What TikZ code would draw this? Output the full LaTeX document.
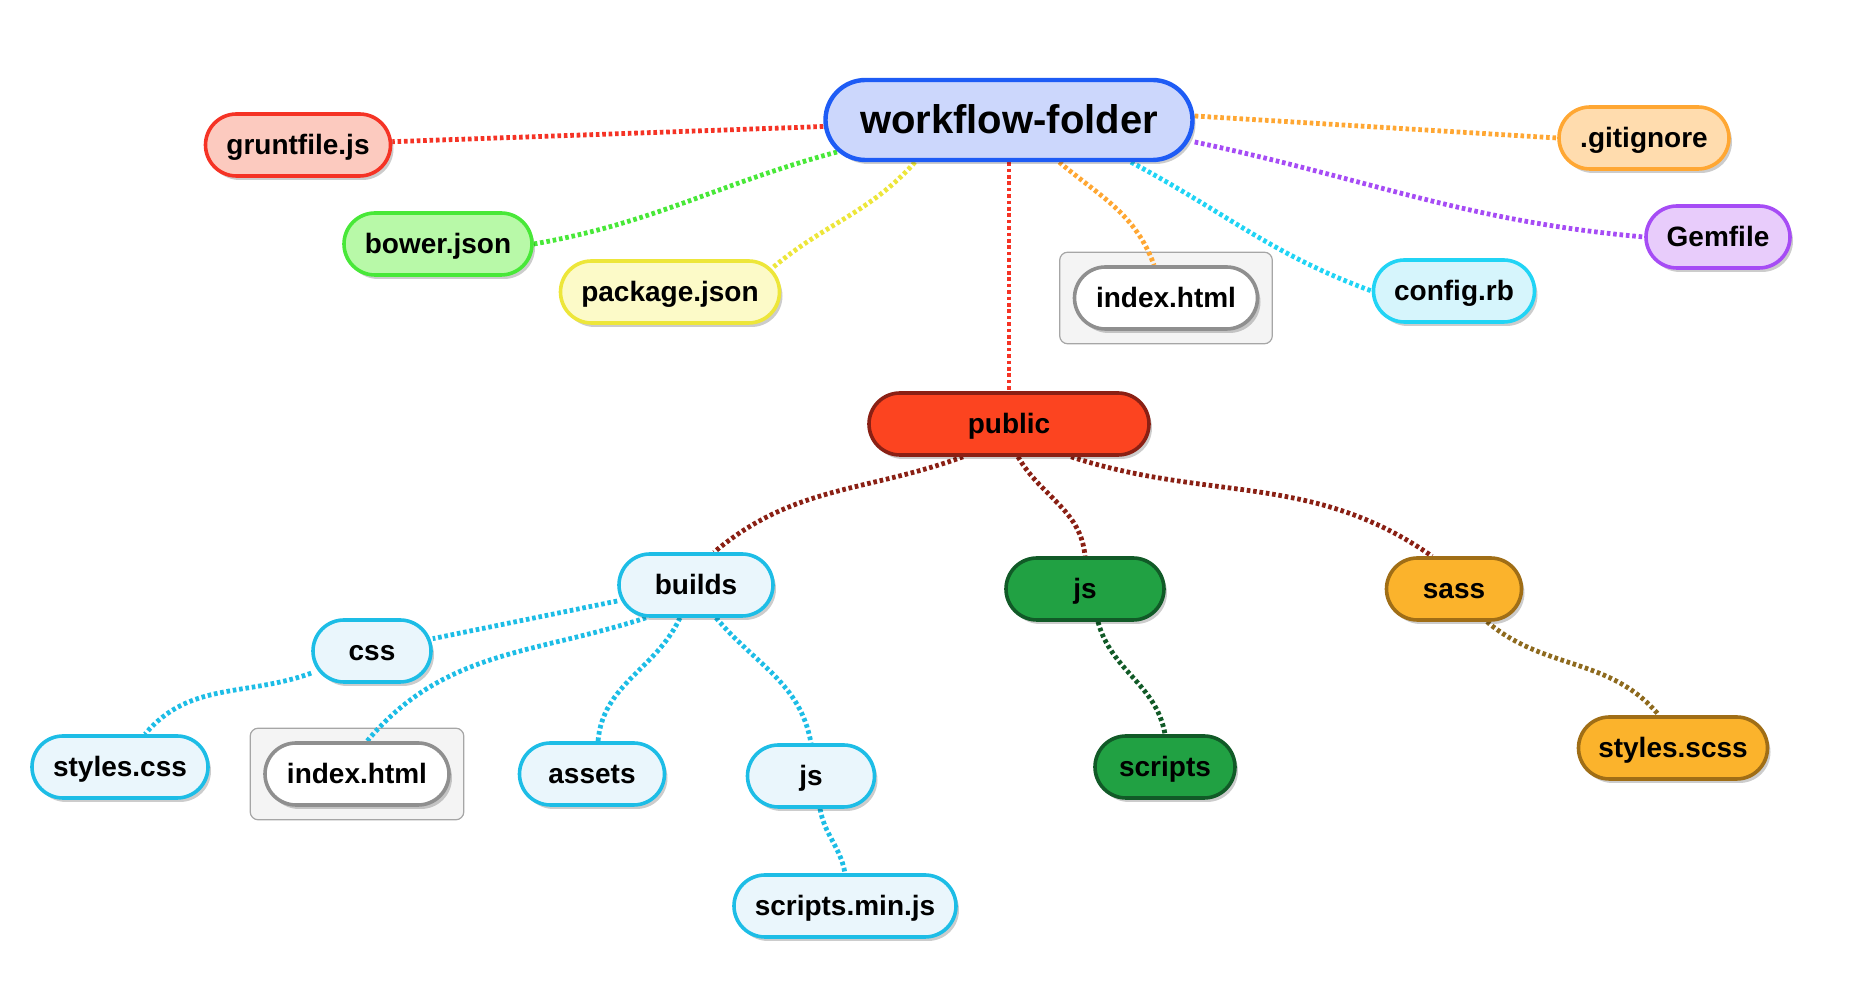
\documentclass[tikz,border=0pt]{standalone}
\usepackage{fontspec}
\setmainfont{Liberation Sans}
\usetikzlibrary{positioning, shadows, fit, backgrounds}
\definecolor{rootfill}{HTML}{CCD7FC}
\definecolor{rootline}{HTML}{1E5CF5}
\definecolor{gruntfill}{HTML}{FCCABF}
\definecolor{gruntline}{HTML}{F53325}
\definecolor{bowerfill}{HTML}{B8F9A8}
\definecolor{bowerline}{HTML}{48E838}
\definecolor{pkgfill}{HTML}{FCFAC8}
\definecolor{pkgline}{HTML}{EDE63A}
\definecolor{idxline}{HTML}{8F8F8F}
\definecolor{grpfill}{HTML}{F4F4F4}
\definecolor{grpline}{HTML}{A6A6A6}
\definecolor{configfill}{HTML}{D6F5FC}
\definecolor{configline}{HTML}{21D4F5}
\definecolor{gitfill}{HTML}{FFDCAE}
\definecolor{gitline}{HTML}{FFA733}
\definecolor{gemfill}{HTML}{E8CCFB}
\definecolor{gemline}{HTML}{A64CF5}
\definecolor{publicfill}{HTML}{FC4420}
\definecolor{publicline}{HTML}{8A2014}
\definecolor{buildfill}{HTML}{EAF6FC}
\definecolor{buildline}{HTML}{1DBDE6}
\definecolor{jsfill}{HTML}{21A143}
\definecolor{jsline}{HTML}{115A27}
\definecolor{sassfill}{HTML}{FBB32C}
\definecolor{sassline}{HTML}{A06E16}
\definecolor{sasslink}{HTML}{8E6A1E}
\tikzset{
    file/.style={rectangle, rounded corners=15.5pt, minimum height=31pt, inner xsep=8pt, line width=1.8pt, text height=12.5pt, text depth=3pt, font=\bfseries\fontsize{14}{16}\selectfont, drop shadow={shadow xshift=1.5pt, shadow yshift=-2pt, fill=black, opacity=0.2}}, % every file or folder pill
    root/.style={minimum height=40pt, rounded corners=20pt, line width=2.2pt, text height=18pt, text depth=4pt, font=\bfseries\fontsize{20}{24}\selectfont}, % the top folder
    tone/.style 2 args={fill=#1, draw=#2}, % fill and border colour
    link/.style={line width=2.4pt, dash pattern=on 1.8pt off 1.4pt, draw=#1}, % the dotted connectors
    group/.style={draw=grpline, fill=grpfill, rounded corners=4pt, line width=0.6pt, inner sep=6.5pt}, % grey box round a file
}
\begin{document}
\begin{tikzpicture}[x=0.5pt, y=0.5pt]
    \useasboundingbox (0,0) rectangle (1876,-1004);

    \node[file, root, tone={rootfill}{rootline}, minimum width=183.5pt] (wf) at (1009,-120) {workflow-folder};
    \node[file, tone={gruntfill}{gruntline}, minimum width=92.5pt] (grunt) at (298,-145) {gruntfile.js};
    \node[file, tone={bowerfill}{bowerline}, minimum width=94pt] (bower) at (438,-244) {bower.json};
    \node[file, tone={pkgfill}{pkgline}, minimum width=109.5pt] (pkg) at (670,-292) {package.json};
    \node[file, tone={white}{idxline}, minimum width=91.5pt] (idxtop) at (1166,-298) {index.html};
    \node[file, tone={configfill}{configline}, minimum width=80.5pt] (config) at (1454,-291) {config.rb};
    \node[file, tone={gitfill}{gitline}, minimum width=85pt] (gitignore) at (1644,-138) {.gitignore};
    \node[file, tone={gemfill}{gemline}, minimum width=72pt] (gem) at (1718,-237) {Gemfile};

    \node[file, tone={publicfill}{publicline}, minimum width=140pt] (public) at (1009,-424) {public};
    \node[file, tone={buildfill}{buildline}, minimum width=77pt] (builds) at (696,-585) {builds};
    \node[file, tone={jsfill}{jsline}, minimum width=79pt] (jsgreen) at (1085,-589) {js};
    \node[file, tone={sassfill}{sassline}, minimum width=67.5pt] (sass) at (1454,-589) {sass};

    \node[file, tone={buildfill}{buildline}, minimum width=59pt] (css) at (372,-651) {css};
    \node[file, tone={buildfill}{buildline}, minimum width=88pt] (stylescss) at (120,-767) {styles.css};
    \node[file, tone={white}{idxline}, minimum width=92pt] (idxlow) at (357,-774) {index.html};
    \node[file, tone={buildfill}{buildline}, minimum width=72.5pt] (assets) at (592,-774) {assets};
    \node[file, tone={buildfill}{buildline}, minimum width=63.5pt] (jsblue) at (811,-776) {js};
    \node[file, tone={buildfill}{buildline}, minimum width=111pt] (minjs) at (845,-906) {scripts.min.js};
    \node[file, tone={jsfill}{jsline}, minimum width=70pt] (scripts) at (1165,-767) {scripts};
    \node[file, tone={sassfill}{sassline}, minimum width=94.5pt] (stylesscss) at (1673,-748) {styles.scss};

    \begin{scope}[on background layer]
        \node[group, fit=(idxtop)] (grptop) {};
        \node[group, fit=(idxlow)] (grplow) {};

        \draw[link=gruntline] (wf) -- (grunt);
        \draw[link=bowerline] ([shift={(-86pt,-16pt)}]wf.center) to[out=195, in=10] (bower.east);
        \draw[link=pkgline] ([xshift=-47pt]wf.south) to[out=228, in=40] ([shift={(-4pt,-4pt)}]pkg.north east);
        \draw[link=gruntline] (wf) -- (public);
        \draw[link=gitline] (wf) to[out=-40, in=110] (idxtop);
        \draw[link=configline] ([xshift=61pt]wf.south) to[out=-28, in=160] (config.west);
        \draw[link=gitline] ([yshift=2pt]wf.east) -- (gitignore.west);
        \draw[link=gemline] ([yshift=-11pt]wf.east) to[out=-12, in=175] (gem.west);

        \draw[link=publicline] ([xshift=-23pt]public.south) to[out=200, in=40] ([xshift=9pt]builds.north);
        \draw[link=publicline] ([xshift=4.5pt]public.south) to[out=-60, in=95] (jsgreen.north);
        \draw[link=publicline] ([xshift=31pt]public.south) to[out=-18, in=145] ([xshift=-11pt]sass.north);

        \draw[link=buildline] (builds) -- (css);
        \draw[link=buildline] ([xshift=-25pt]builds.south) to[out=198, in=50] ([xshift=5pt]idxlow.north);
        \draw[link=buildline] ([xshift=-8pt]builds.south) to[out=-115, in=85] ([xshift=3pt]assets.north);
        \draw[link=buildline] ([xshift=10pt]builds.south) to[out=-50, in=100] (jsblue.north);
        \draw[link=buildline] (css) to[out=200, in=50] ([xshift=12.5pt]stylescss.north);
        \draw[link=buildline] ([xshift=4.5pt]jsblue.south) to[out=-80, in=100] (minjs.north);
        \draw[link=jsline] ([xshift=6.5pt]jsgreen.south) to[out=-75, in=100] (scripts.north);
        \draw[link=sasslink] ([xshift=16.5pt]sass.south) to[out=-40, in=130] ([xshift=-7pt]stylesscss.north);
    \end{scope}
\end{tikzpicture}
\end{document}
